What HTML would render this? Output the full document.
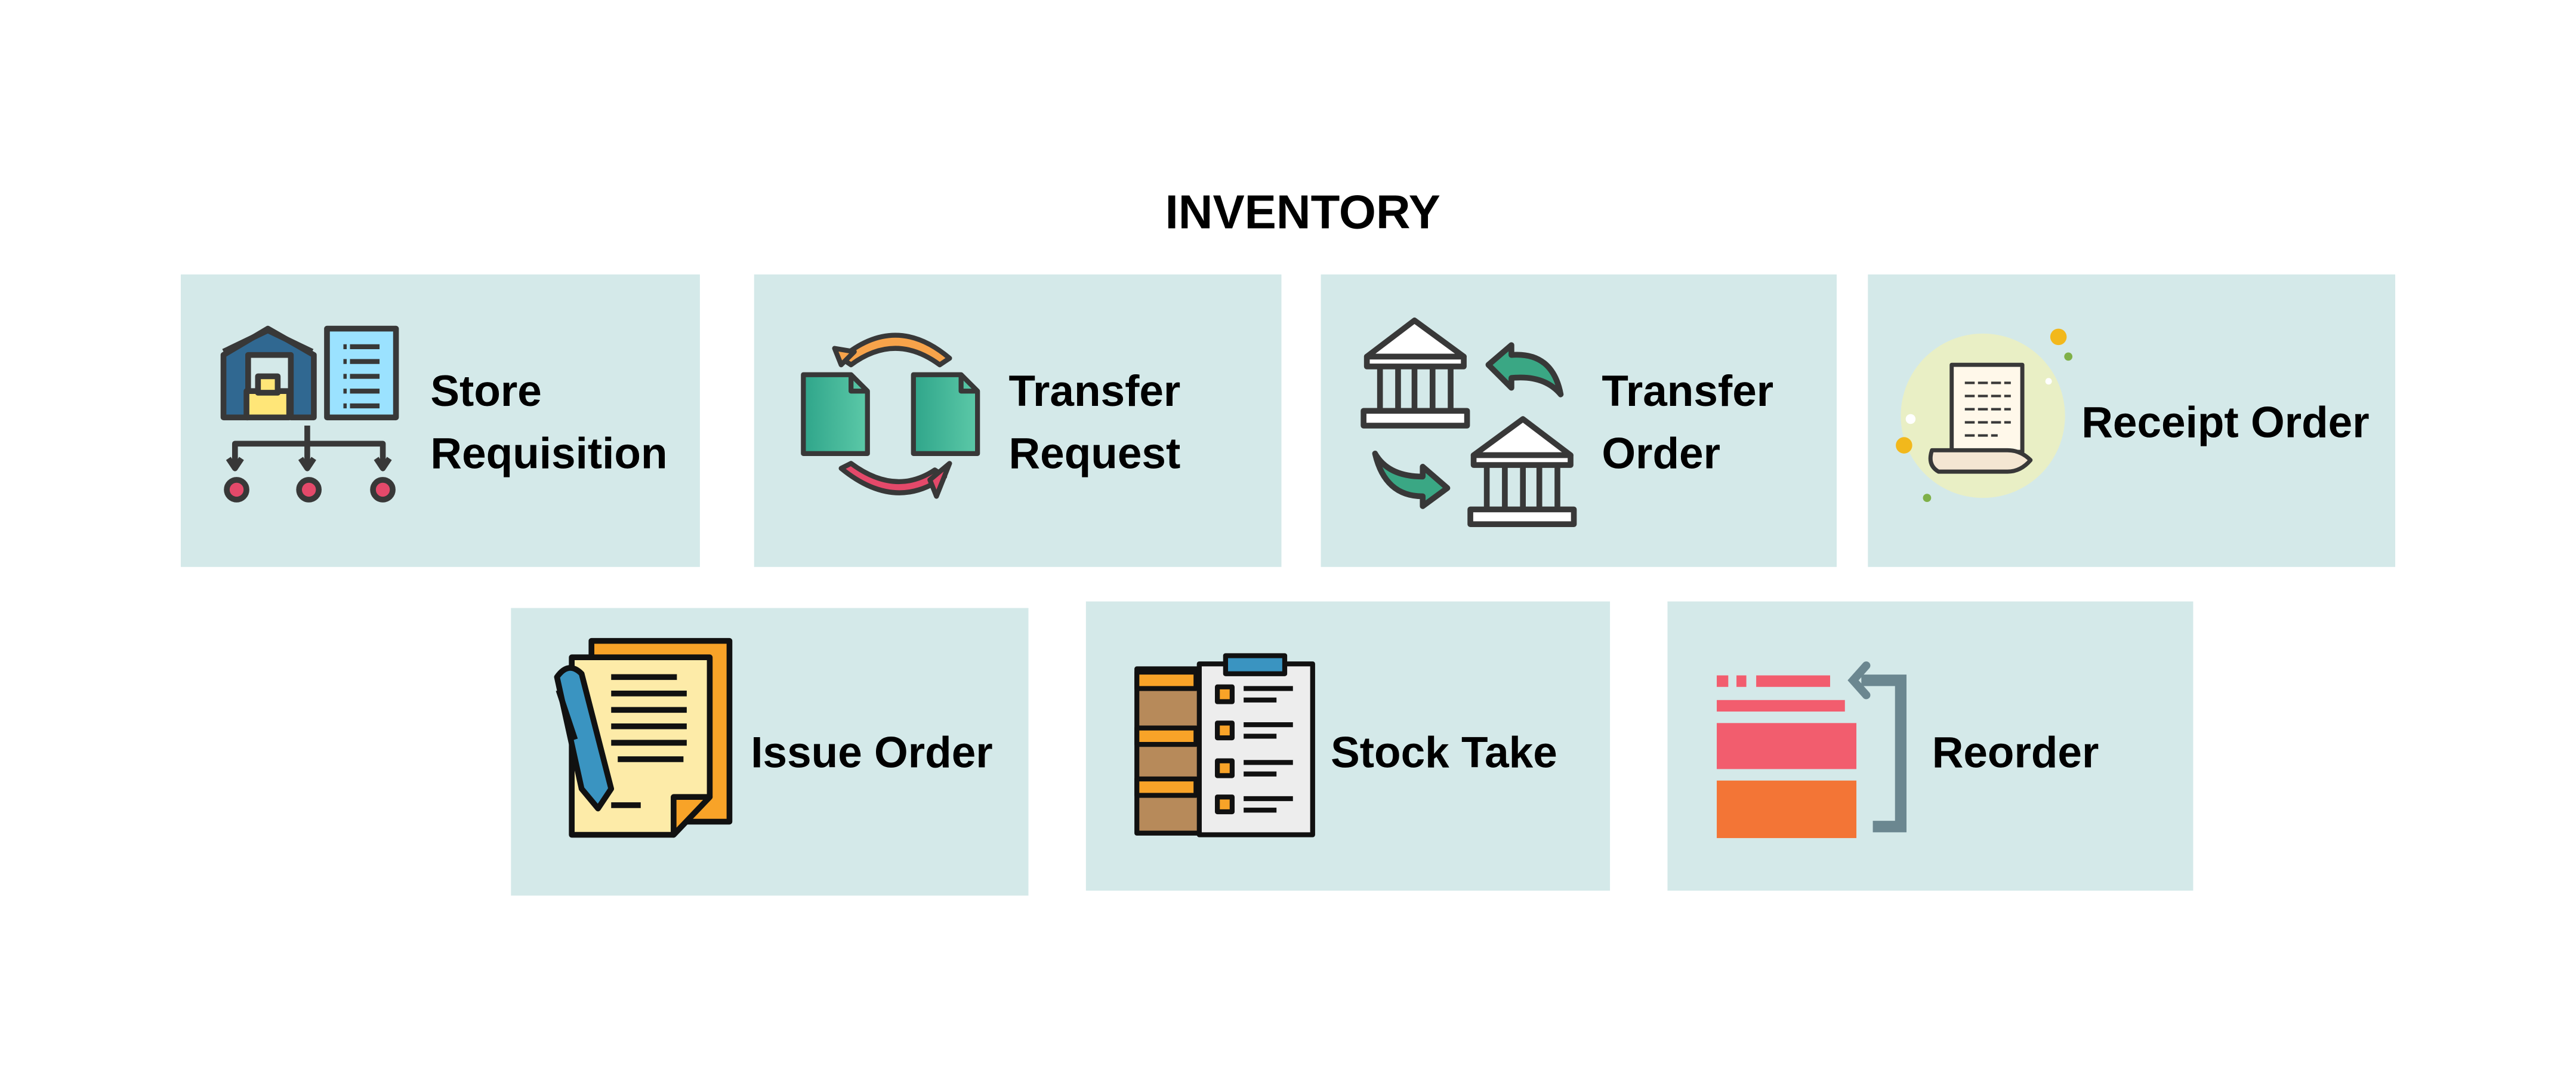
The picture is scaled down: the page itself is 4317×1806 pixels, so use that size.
<!DOCTYPE html>
<html><head><meta charset="utf-8"><style>
html,body{margin:0;padding:0;background:#fff;}
svg{display:block;}
text{font-family:"Liberation Sans",Arial,sans-serif;font-weight:bold;fill:#000;}
</style></head><body>
<svg width="4317" height="1806" viewBox="0 0 1568 656" xmlns="http://www.w3.org/2000/svg">
<defs>
<linearGradient id="tg" x1="0" x2="1"><stop offset="0" stop-color="#2fa58a"/><stop offset="1" stop-color="#5cc9a8"/></linearGradient>
</defs>
<rect width="1568" height="656" fill="#fff"/>
<text x="793" y="139" font-size="29" text-anchor="middle">INVENTORY</text>
<g fill="#d4e9e9">
<rect x="110" y="167" width="316" height="178"/>
<rect x="459" y="167" width="321" height="178"/>
<rect x="804" y="167" width="314" height="178"/>
<rect x="1137" y="167" width="321" height="178"/>
<rect x="311" y="370" width="315" height="175"/>
<rect x="661" y="366" width="319" height="176"/>
<rect x="1015" y="366" width="320" height="176"/>
</g>
<g font-size="26.5">
<text x="262" y="247">Store</text><text x="262" y="285">Requisition</text>
<text x="614" y="247">Transfer</text><text x="614" y="285">Request</text>
<text x="975" y="247">Transfer</text><text x="975" y="285">Order</text>
<text x="1267" y="266">Receipt Order</text>
<text x="457" y="467">Issue Order</text>
<text x="810" y="467">Stock Take</text>
<text x="1176" y="467">Reorder</text>
</g>
<!-- 1 store requisition -->
<g stroke="#383838" stroke-width="3.5" stroke-linejoin="round">
<path d="M136,254 V216 L163,200 L191,216 V254 H177 V216 H151 V254 Z" fill="#306891"/>
<path d="M136,214 L163,201 L190,214" fill="none"/>
<rect x="150" y="238" width="26" height="16" fill="#ffe678"/>
<rect x="157" y="229" width="12" height="10" fill="#ffe678"/>
<rect x="199" y="200" width="42" height="54" fill="#9be2ff"/>
<g stroke-width="3"><path d="M209,211h2M213,211h18M209,220h2M213,220h18M209,229h2M213,229h18M209,238h2M213,238h18M209,247h2M213,247h18"/></g>
<path d="M187,259V270M143,282V270H233V282M187,270V283" fill="none"/>
<path d="M139,279l4,6 4,-6M183,279l4,6 4,-6M229,279l4,6 4,-6" fill="none"/>
<circle cx="144" cy="298" r="6" fill="#e4496a"/><circle cx="188" cy="298" r="6" fill="#e4496a"/><circle cx="233" cy="298" r="6" fill="#e4496a"/>
</g>
<!-- 2 transfer request -->
<g stroke="#383838" stroke-width="3" stroke-linejoin="round">
<path d="M489,228 H518 L528,238 V276 H489 Z" fill="url(#tg)"/>
<path d="M556,228 H585 L595,238 V276 H556 Z" fill="url(#tg)"/>
<path d="M518,228V238H528M585,228V238H595" fill="none"/>
<path d="M512,218 Q545,190 578,218 L572,222 Q545,202 518,222 Z" fill="#f7a34a"/>
<path d="M508,212 L512,222 L520,214 Z" fill="#f7a34a"/>
<path d="M512,285 Q545,312 575,290 L569,286 Q545,302 518,282 Z" fill="#e4496a"/>
<path d="M578,282 L570,302 L566,292 Z" fill="#e4496a"/>
</g>
<!-- 3 transfer order -->
<g stroke="#383838" stroke-width="3.5" stroke-linejoin="round">
<path d="M832,217 L861,195 L891,217 Z" fill="#fff"/>
<rect x="832" y="217" width="59" height="6" fill="#fff"/>
<rect x="830" y="250" width="63" height="9" fill="#fff"/>
<path d="M840,224V249M851,224V249M861,224V249M872,224V249M883,224V249" fill="none"/>
<path d="M897,277 L927,255 L956,277 Z" fill="#fff"/>
<rect x="897" y="277" width="59" height="6" fill="#fff"/>
<rect x="895" y="310" width="63" height="9" fill="#fff"/>
<path d="M905,284V309M916,284V309M927,284V309M937,284V309M948,284V309" fill="none"/>
<path d="M906,222 L920,210 L920,216 Q945,214 950,240 Q940,228 920,230 L920,236 Z" fill="#3aa784"/>
<path d="M837,276 Q845,290 866,290 L866,284 L881,297 L866,308 L866,302 Q843,302 837,276 Z" fill="#3aa784"/>
</g>
<!-- 4 receipt order -->
<circle cx="1207" cy="253" r="50" fill="#e9efc5"/>
<circle cx="1253" cy="205" r="5" fill="#f2b81c"/><circle cx="1159" cy="271" r="5" fill="#f2b81c"/>
<circle cx="1259" cy="217" r="2.5" fill="#7fb048"/><circle cx="1173" cy="303" r="2.5" fill="#7fb048"/><circle cx="1163" cy="255" r="3" fill="#fff"/><circle cx="1247" cy="232" r="2" fill="#fff"/>
<g stroke="#383838" stroke-width="2.5" stroke-linejoin="round">
<path d="M1188,222 H1231 V275 H1188 Z" fill="#fff8ea"/>
<path d="M1176,274 H1222 Q1230,274 1236,280 Q1230,287 1222,287 H1180 Q1173,283 1176,274 Z" fill="#f4e6d2"/>
<path d="M1196,233h28M1196,241h28M1196,249h28M1196,257h28M1196,265h20" stroke-width="1.5" stroke-dasharray="6 2" fill="none"/>
</g>
<!-- 5 issue order -->
<g stroke="#111" stroke-width="3.5" stroke-linejoin="round">
<path d="M360,390 H444 V500 H360 Z" fill="#f8a328"/>
<path d="M348,400 H432 V485 L410,508 H348 Z" fill="#fdeba8"/>
<path d="M410,508 V485 H432 Z" fill="#f8a328"/>
<path d="M372,412h40M372,422h46M372,432h46M372,442h46M372,452h46M376,462h40" fill="none"/>
<path d="M339,412 Q346,402 354,410 L372,480 L364,492 L354,480 Z" fill="#3a94c1"/>
<path d="M340,420 L350,450" fill="none"/>
<path d="M372,490h18" fill="none"/>
</g>
<!-- 6 stock take -->
<g stroke="#111" stroke-width="3" stroke-linejoin="round">
<rect x="692" y="407" width="40" height="100" fill="#b78a5a"/>
<rect x="692" y="409" width="36" height="10" fill="#f8a328"/>
<rect x="692" y="443" width="36" height="10" fill="#f8a328"/>
<rect x="692" y="474" width="36" height="10" fill="#f8a328"/>
<rect x="730" y="404" width="69" height="104" fill="#ededed"/>
<rect x="746" y="399" width="36" height="11" fill="#3a94c1"/>
<rect x="741" y="418" width="9" height="9" fill="#f8a328"/><path d="M757,419h30M757,426h20" fill="none"/>
<rect x="741" y="440" width="9" height="9" fill="#f8a328"/><path d="M757,441h30M757,448h20" fill="none"/>
<rect x="741" y="463" width="9" height="9" fill="#f8a328"/><path d="M757,464h30M757,471h20" fill="none"/>
<rect x="741" y="485" width="9" height="9" fill="#f8a328"/><path d="M757,486h30M757,493h20" fill="none"/>
</g>
<!-- 7 reorder -->
<g fill="#f25d6e">
<rect x="1045" y="411" width="7" height="7"/><rect x="1057" y="411" width="6" height="7"/><rect x="1069" y="411" width="45" height="7"/>
<rect x="1045" y="426" width="78" height="7"/>
<rect x="1045" y="440" width="85" height="28"/>
</g>
<rect x="1045" y="475" width="85" height="35" fill="#f37536"/>
<path d="M1133,414 H1157 V503 H1140" fill="none" stroke="#6b8790" stroke-width="7"/>
<path d="M1136,405 L1128,414 L1136,423" fill="none" stroke="#6b8790" stroke-width="5" stroke-linecap="round"/>
</svg>
</body></html>
